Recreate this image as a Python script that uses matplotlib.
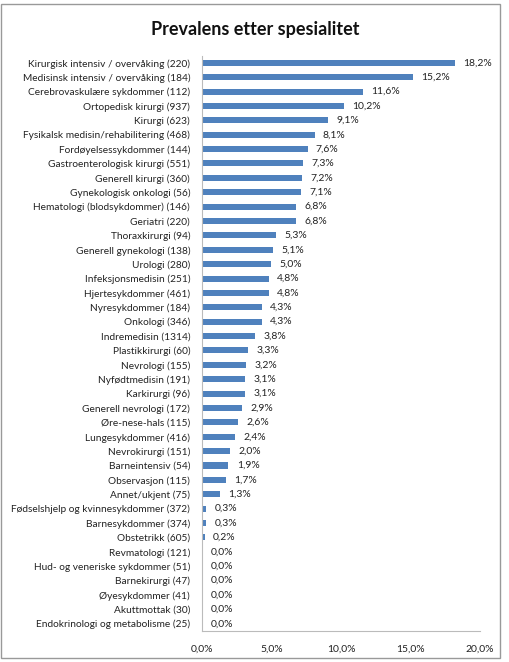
import matplotlib
matplotlib.use('Agg')
from matplotlib import pyplot as plt
from matplotlib.patches import Rectangle
import numpy as np

plt.rcParams['font.family'] = ['Lato', 'DejaVu Sans']

# kategorier (antall pasienter i parentes) og prevalens i prosent
kategorier = [
    "Kirurgisk intensiv / overvåking (220)",
    "Medisinsk intensiv / overvåking (184)",
    "Cerebrovaskulære sykdommer (112)",
    "Ortopedisk kirurgi (937)",
    "Kirurgi (623)",
    "Fysikalsk medisin/rehabilitering (468)",
    "Fordøyelsessykdommer (144)",
    "Gastroenterologisk kirurgi (551)",
    "Generell kirurgi (360)",
    "Gynekologisk onkologi (56)",
    "Hematologi (blodsykdommer) (146)",
    "Geriatri (220)",
    "Thoraxkirurgi (94)",
    "Generell gynekologi (138)",
    "Urologi (280)",
    "Infeksjonsmedisin (251)",
    "Hjertesykdommer (461)",
    "Nyresykdommer (184)",
    "Onkologi (346)",
    "Indremedisin (1314)",
    "Plastikkirurgi (60)",
    "Nevrologi (155)",
    "Nyfødtmedisin (191)",
    "Karkirurgi (96)",
    "Generell nevrologi (172)",
    "Øre-nese-hals (115)",
    "Lungesykdommer (416)",
    "Nevrokirurgi (151)",
    "Barneintensiv (54)",
    "Observasjon (115)",
    "Annet/ukjent (75)",
    "Fødselshjelp og kvinnesykdommer (372)",
    "Barnesykdommer (374)",
    "Obstetrikk (605)",
    "Revmatologi (121)",
    "Hud- og veneriske sykdommer (51)",
    "Barnekirurgi (47)",
    "Øyesykdommer (41)",
    "Akuttmottak (30)",
    "Endokrinologi og metabolisme (25)",
]
prevalens = [18.2, 15.2, 11.6, 10.2, 9.1, 8.1, 7.6, 7.3, 7.2, 7.1,
             6.8, 6.8, 5.3, 5.1, 5.0, 4.8, 4.8, 4.3, 4.3, 3.8,
             3.3, 3.2, 3.1, 3.1, 2.9, 2.6, 2.4, 2.0, 1.9, 1.7,
             1.3, 0.3, 0.3, 0.2, 0.0, 0.0, 0.0, 0.0, 0.0, 0.0]
xticks = [0, 5, 10, 15, 20]

fig = plt.figure(figsize=(5.1, 6.62), dpi=100)
ax = fig.add_axes([0.396, 0.047, 0.545, 0.869])

y = np.arange(len(kategorier))
ax.barh(y, prevalens, height=0.42, color='#4F81BD')
ax.set_ylim(len(kategorier) - 0.5, -0.5)
ax.set_xlim(0, 20)

ax.set_yticks(y)
ax.set_yticklabels(kategorier, fontsize=7.3, color='#222222')
ax.set_xticks(xticks)
ax.set_xticklabels([f"{v:.1f}%".replace('.', ',') for v in xticks], fontsize=7.5, color='#222222')
ax.tick_params(length=0)
ax.tick_params(axis='y', pad=8.5)
ax.tick_params(axis='x', pad=10)

for s in ['top', 'right']:
    ax.spines[s].set_visible(False)
for s in ['left', 'bottom']:
    ax.spines[s].set_color('#BBBBBB')
    ax.spines[s].set_linewidth(0.8)

for yi, v in zip(y, prevalens):
    ax.annotate(f"{v:.1f}%".replace('.', ','), (v, yi), xytext=(6, 0),
                textcoords='offset points', va='center', ha='left',
                fontsize=7.5, color='#222222')

fig.text(0.5, 0.955, "Prevalens etter spesialitet", ha='center', va='center',
         fontsize=13, fontweight='bold', color='#111111')

# ramme rundt diagrammet
fig.patches.append(Rectangle((0.001, 0.006), 0.98, 0.988, transform=fig.transFigure,
                             fill=False, edgecolor='#999999', linewidth=1))

fig.savefig('out.png', dpi=100)
